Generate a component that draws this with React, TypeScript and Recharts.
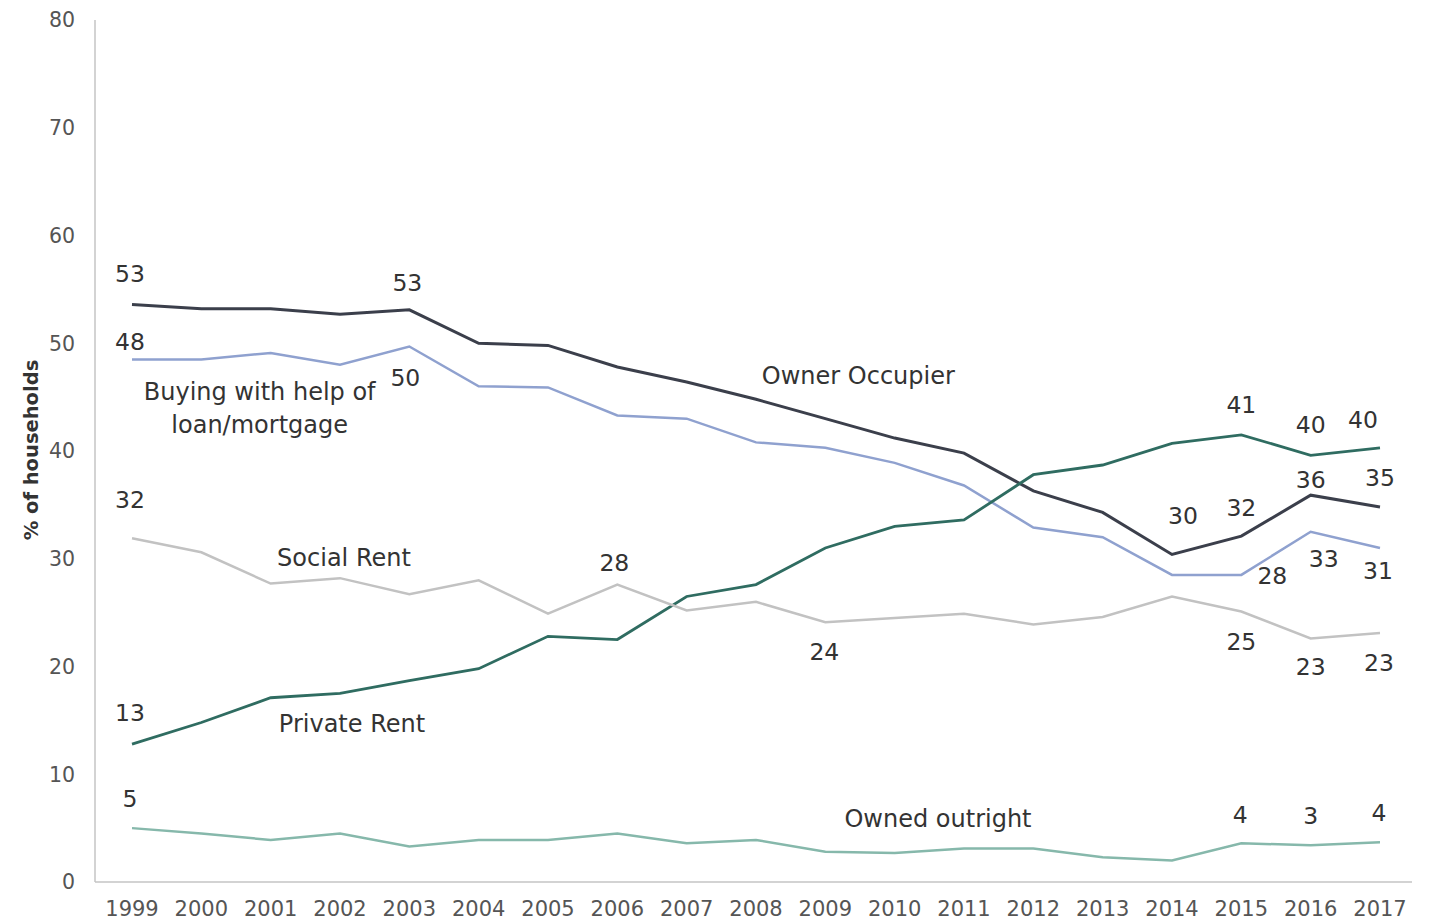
import React from 'react';
import { LineChart, Line, XAxis, YAxis, LabelList } from 'recharts';

const years = ['1999','2000','2001','2002','2003','2004','2005','2006','2007','2008','2009','2010','2011','2012','2013','2014','2015','2016','2017'];
const yTicks = [0, 10, 20, 30, 40, 50, 60, 70, 80];

const ownerOccupier = [53.6, 53.2, 53.2, 52.7, 53.1, 50.0, 49.8, 47.8, 46.4, 44.8, 43.0, 41.2, 39.8, 36.3, 34.3, 30.4, 32.1, 35.9, 34.8];
const buyingLoan = [48.5, 48.5, 49.1, 48.0, 49.7, 46.0, 45.9, 43.3, 43.0, 40.8, 40.3, 38.9, 36.8, 32.9, 32.0, 28.5, 28.5, 32.5, 31.0];
const privateRent = [12.8, 14.8, 17.1, 17.5, 18.7, 19.8, 22.8, 22.5, 26.5, 27.6, 31.0, 33.0, 33.6, 37.8, 38.7, 40.7, 41.5, 39.6, 40.3];
const socialRent = [31.9, 30.6, 27.7, 28.2, 26.7, 28.0, 24.9, 27.6, 25.2, 26.0, 24.1, 24.5, 24.9, 23.9, 24.6, 26.5, 25.1, 22.6, 23.1];
const ownedOutright = [5.0, 4.5, 3.9, 4.5, 3.3, 3.9, 3.9, 4.5, 3.6, 3.9, 2.8, 2.7, 3.1, 3.1, 2.3, 2.0, 3.6, 3.4, 3.7];

// displayed value labels (index -> text)
const ownerLabels: Record<number, string> = { 0: '53', 4: '53', 15: '30', 16: '32', 17: '36', 18: '35' };
const buyingLabels: Record<number, string> = { 0: '48', 4: '50', 16: '28', 17: '33', 18: '31' };
const privateLabels: Record<number, string> = { 0: '13', 16: '41', 17: '40', 18: '40' };
const socialLabels: Record<number, string> = { 0: '32', 7: '28', 10: '24', 16: '25', 17: '23', 18: '23' };
const outrightLabels: Record<number, string> = { 0: '5', 16: '4', 17: '3', 18: '4' };

const seriesNames = {
  owner: ['Owner Occupier'],
  buying: ['Buying with help of', 'loan/mortgage'],
  private: ['Private Rent'],
  social: ['Social Rent'],
  outright: ['Owned outright'],
};

const data = years.map((y, i) => ({
  year: y,
  owner: ownerOccupier[i],
  buying: buyingLoan[i],
  private: privateRent[i],
  social: socialRent[i],
  outright: ownedOutright[i],
}));

// label placement (styling, not data)
type Off = { dx: number; dy: number };
const labelOffsets: Record<string, Record<number, Off>> = {
  owner: { 0: { dx: -2, dy: -30 }, 4: { dx: -2, dy: -27 }, 15: { dx: 11, dy: -38 }, 16: { dx: 0, dy: -28 }, 17: { dx: 0, dy: -15 }, 18: { dx: 0, dy: -29 } },
  buying: { 0: { dx: -2, dy: -17 }, 4: { dx: -4, dy: 32 }, 16: { dx: 31, dy: 1 }, 17: { dx: 13, dy: 27 }, 18: { dx: -2, dy: 23 } },
  private: { 0: { dx: -2, dy: -31 }, 16: { dx: 0, dy: -30 }, 17: { dx: 0, dy: -30 }, 18: { dx: -17, dy: -28 } },
  social: { 0: { dx: -2, dy: -38 }, 7: { dx: -3, dy: -22 }, 10: { dx: -1, dy: 30 }, 16: { dx: 0, dy: 30 }, 17: { dx: 0, dy: 29 }, 18: { dx: -1, dy: 30 } },
  outright: { 0: { dx: -2, dy: -29 }, 16: { dx: -1, dy: -28 }, 17: { dx: 0, dy: -29 }, 18: { dx: -1, dy: -29 } },
};
const nameAnchors: Record<string, { index: number; dx: number; dy: number }> = {
  owner: { index: 10, dx: 33, dy: -43 },
  buying: { index: 2, dx: -11, dy: 39 },
  private: { index: 3, dx: 12, dy: 31 },
  social: { index: 3, dx: 4, dy: -20 },
  outright: { index: 12, dx: -26, dy: -30 },
};

const FONT = 'DejaVu Sans, Liberation Sans, Arial, sans-serif';
const TEXT = '#333333';

const labelMap: Record<string, Record<number, string>> = {
  owner: ownerLabels,
  buying: buyingLabels,
  private: privateLabels,
  social: socialLabels,
  outright: outrightLabels,
};

const makeContent = (key: string) => (props: any) => {
  const { x, y, index } = props;
  if (x == null || y == null) return null;
  const out: React.ReactNode[] = [];
  const txt = labelMap[key][index];
  if (txt != null) {
    const o = labelOffsets[key][index] || { dx: 0, dy: -28 };
    out.push(
      <text key="v" x={x + o.dx} y={y + o.dy} textAnchor="middle" dominantBaseline="central"
        fontFamily={FONT} fontSize={23.5} fill={TEXT}>{txt}</text>
    );
  }
  const na = nameAnchors[key];
  if (na && na.index === index) {
    const lines = (seriesNames as any)[key] as string[];
    lines.forEach((ln, li) => {
      out.push(
        <text key={'n' + li} x={x + na.dx} y={y + na.dy + li * 33} textAnchor="middle" dominantBaseline="central"
          fontFamily={FONT} fontSize={24} fill={TEXT}>{ln}</text>
      );
    });
  }
  if (!out.length) return null;
  return <g>{out}</g>;
};

const YTitle = (props: any) => {
  const vb = props.viewBox || { x: 0, y: 0, height: 0 };
  const cx = 31;
  const cy = vb.y + vb.height / 2 - 1;
  return (
    <text x={cx} y={cy} transform={`rotate(-90, ${cx}, ${cy})`} textAnchor="middle" dominantBaseline="central"
      fontFamily={FONT} fontSize={19.5} fontWeight="bold" fill="#333">% of households</text>
  );
};

const series = [
  { key: 'owner', color: '#3b3f4b', width: 3 },
  { key: 'buying', color: '#8fa1cf', width: 2.5 },
  { key: 'private', color: '#2f6c61', width: 2.8 },
  { key: 'social', color: '#c2c2c2', width: 2.5 },
  { key: 'outright', color: '#86b8ab', width: 2.5 },
];

export default function App() {
  return (
    <div style={{ position: 'absolute', left: 0, top: 0, background: '#fff' }}>
      <LineChart width={1432} height={921} data={data} margin={{ top: 20, right: 20, bottom: 9, left: 35 }}>
        <XAxis dataKey="year" padding={{ left: 37, right: 32 }} axisLine={{ stroke: '#c4c4c4', strokeWidth: 1.5 }}
          tickLine={false} tickSize={0} tickMargin={19} height={30} interval={0}
          tick={{ fontFamily: FONT, fontSize: 21, fill: '#555' }} />
        <YAxis domain={[0, 80]} ticks={yTicks} width={60} axisLine={{ stroke: '#c4c4c4', strokeWidth: 1.5 }}
          tickLine={false} tickSize={0} tickMargin={20} interval={0}
          tick={{ fontFamily: FONT, fontSize: 20.5, fill: '#555' }}
          label={{ content: YTitle }} />
        {series.map((s) => (
          <Line key={s.key} type="linear" dataKey={s.key} stroke={s.color} strokeWidth={s.width}
            dot={false} activeDot={false} isAnimationActive={false}>
            <LabelList dataKey={s.key} content={makeContent(s.key)} />
          </Line>
        ))}
      </LineChart>
    </div>
  );
}
